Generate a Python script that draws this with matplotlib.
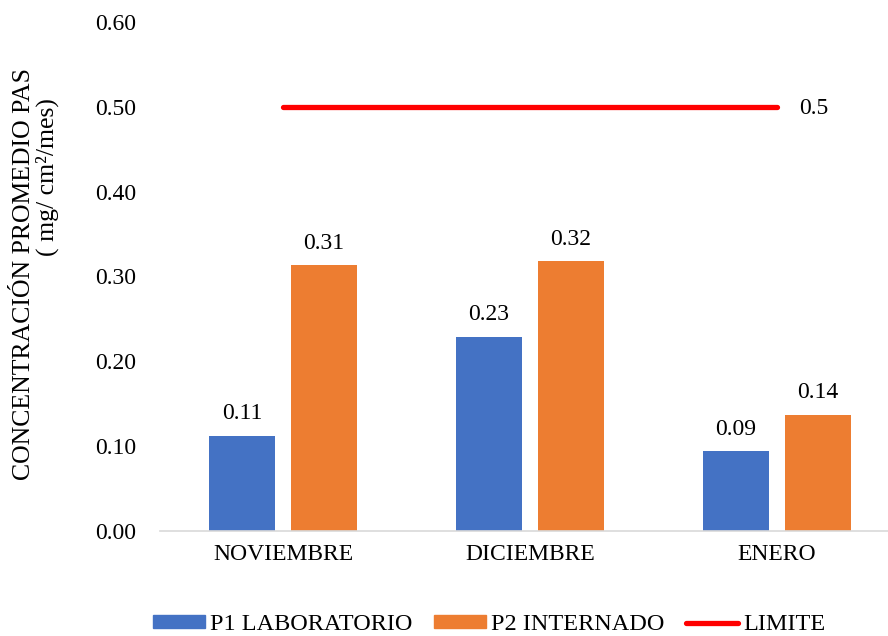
import matplotlib
matplotlib.use("Agg")
import matplotlib.pyplot as plt
import numpy as np
from matplotlib.lines import Line2D
from matplotlib.patches import Patch

months = ["NOVIEMBRE", "DICIEMBRE", "ENERO"]
p1_laboratorio = [0.112, 0.229, 0.094]
p2_internado = [0.313, 0.318, 0.137]
limite = 0.5
y_ticks = [0.0, 0.1, 0.2, 0.3, 0.4, 0.5, 0.6]

blue = "#4472C4"
orange = "#ED7D31"
red = "#FF0000"

plt.rcParams["font.family"] = ["Liberation Serif", "DejaVu Serif"]

W, H = 888, 636
fig = plt.figure(figsize=(W / 100, H / 100), dpi=100)
ax = fig.add_axes([159.5 / W, 105 / H, 741 / W, 509 / H])

x = np.arange(len(months))
w = 0.267
off = w / 2 + 0.0325
b1 = ax.bar(x - off, p1_laboratorio, w, color=blue, zorder=2)
b2 = ax.bar(x + off, p2_internado, w, color=orange, zorder=2)

for bars, vals in ((b1, p1_laboratorio), (b2, p2_internado)):
    for r, v in zip(bars, vals):
        ax.annotate(f"{v:.2f}", (r.get_x() + r.get_width() / 2, v),
                    xytext=(0, 12), textcoords="offset points",
                    ha="center", va="baseline", fontsize=17)

ax.plot([x[0], x[-1]], [limite, limite], color=red, lw=3.8,
        solid_capstyle="round", zorder=3)
ax.annotate(f"{limite:g}", (x[-1], limite), xytext=(16, -1),
            textcoords="offset points", ha="left", va="center", fontsize=17)

ax.set_xlim(-0.5, len(months) - 0.5)
ax.set_ylim(0, 0.6)
ax.set_yticks(y_ticks)
ax.set_yticklabels([f"{t:.2f}" for t in y_ticks])
ax.set_xticks(x)
ax.set_xticklabels(months)
ax.tick_params(axis="both", length=0, labelsize=17)
ax.tick_params(axis="y", pad=16.5)
ax.tick_params(axis="x", pad=9.5)

for s in ("top", "right", "left"):
    ax.spines[s].set_visible(False)
ax.spines["bottom"].set_color("#D9D9D9")
ax.spines["bottom"].set_linewidth(1.2)

# two-line vertical axis title
fig.text(24 / W, 1 - 274 / H, "CONCENTRACIÓN PROMEDIO PAS", rotation=90,
         ha="center", va="center", fontsize=18.5)
fig.text(47 / W, 1 - 177 / H, "( mg/ cm²/mes)", rotation=90,
         ha="center", va="center", fontsize=18.5)

handles = [Patch(color=blue), Patch(color=orange),
           Line2D([], [], color=red, lw=3.8, solid_capstyle="round")]
labels = ["P1 LABORATORIO", "P2 INTERNADO", "LIMITE"]
fig.legend(handles, labels, loc="center left",
           bbox_to_anchor=(153 / W, 1 - 625 / H), borderpad=0,
           borderaxespad=0, ncol=3, frameon=False, fontsize=17.5,
           handlelength=2.14, handleheight=0.45, columnspacing=0.9,
           handletextpad=0.2)

fig.savefig("out.png", dpi=100)
